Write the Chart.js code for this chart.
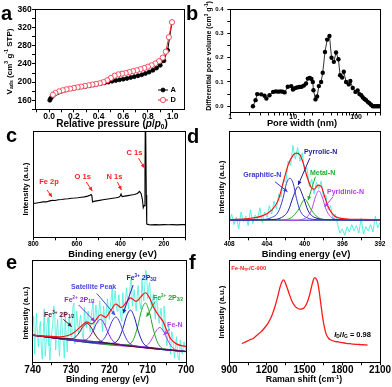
<!DOCTYPE html>
<html><head><meta charset="utf-8">
<script src="https://cdn.jsdelivr.net/npm/chart.js@4.4.1/dist/chart.umd.min.js"></script>
<style>
html,body{margin:0;padding:0;background:#fff;}
#wrap{position:relative;width:392px;height:387px;overflow:hidden;background:#fff;}
#wrap canvas{position:absolute;}
.lt{position:absolute;font:bold 20px 'Liberation Sans',Arial,sans-serif;line-height:20px;color:#000;z-index:5;}
</style></head><body><div id="wrap">
<div class="lt" style="left:1px;top:2.5px">a</div>
<div class="lt" style="left:186px;top:2.5px">b</div>
<div class="lt" style="left:6px;top:125px">c</div>
<div class="lt" style="left:187px;top:125.5px">d</div>
<div class="lt" style="left:6px;top:251.5px">e</div>
<div class="lt" style="left:189px;top:251.5px">f</div>
</div>
<script>
const FONT = "'Liberation Sans', Arial, Helvetica, sans-serif";

/* ---------- panel a : N2 isotherm ---------- */
const aSeries = ['A', 'D'];
const aP_A = [0.005,0.01,0.02,0.03,0.05,0.07,0.09,0.11,0.13,0.15,0.18,0.21,0.24,0.27,0.3,0.33,0.36,0.39,0.42,0.45,0.48,0.51,0.54,0.57,0.6,0.63,0.66,0.69,0.72,0.75,0.78,0.81,0.84,0.87,0.9,0.93,0.96,0.995];
const aV_A = [160,163,167,170,174,177,179,181,182.5,184,185.5,187,188.5,190,191,192.5,194,195.5,197,198.5,200,202,203.5,205,206.5,208,210,212,214,216,219,222,226,231,237,247,270,332];
const aP_D = [0.995,0.97,0.945,0.92,0.89,0.86,0.83,0.8,0.77,0.74,0.71,0.68,0.65,0.62,0.59,0.56,0.53,0.5,0.47,0.44,0.41,0.38,0.35,0.32,0.29,0.26,0.23,0.2,0.17,0.14,0.11,0.08,0.05,0.03];
const aV_D = [332,299,267,254,246,241,237,234,231,228.5,226,224,222,220,218.5,217,214,209,204,200,197.5,196,194.5,193,191.5,190,188.5,187,185.5,184,182,179.5,176,172];
const aXTickLabels = ['0.0','0.2','0.4','0.6','0.8','1.0'];
const aYTickLabels = ['160','200','240','280','320','360'];

/* ---------- panel b : pore size distribution ---------- */
const bWidth = [2.29,2.52,2.68,3.1,3.5,3.75,4.2,4.8,5.3,5.8,6.3,6.8,7.3,8.2,9.3,9.9,10.6,11.5,12.5,13.6,14.8,16,17.1,18.3,19.5,20.5,21,22.6,24,25.6,27.8,29.5,32,34.7,37.7,40.7,44.3,48,52.4,55.7,60,63.8,69.3,76.6,81,88.5,97.7,106,113,121,128,136,144,153,163,173,184,196,208,222,236];
const bVol = [0.0,0.025,0.05,0.049,0.043,0.032,0.045,0.059,0.061,0.06,0.061,0.06,0.057,0.08,0.083,0.069,0.074,0.077,0.079,0.08,0.085,0.094,0.114,0.117,0.112,0.1,0.066,0.028,0.04,0.083,0.1,0.138,0.224,0.275,0.29,0.2,0.183,0.222,0.194,0.128,0.118,0.142,0.1,0.09,0.104,0.075,0.059,0.065,0.05,0.045,0.036,0.03,0.025,0.018,0.012,0.006,0.0,0.0,0.0,0.0,0.0];
const bXTickLabels = ['1','10','100'];
const bYTickLabels = ['0.0','0.1','0.2','0.3','0.4'];

/* ---------- panel c : XPS survey ---------- */
const cEnergy = [800,785,770,755,740,725,712,700,685,670,655,640,625,610,595,580,565,550,540,535,531,528,522,510,495,480,465,450,435,420,408,401,397,392,380,365,350,335,322,312,305,299,295,291,287,285,283,281,279,270,255,240,220,200,180,160,140,120,100];
const cCounts = [32,32.5,33,33.5,33.5,34.5,35,34.8,35.5,35.8,36.2,36.5,37,37.2,37.5,38,38.3,39,39.8,40.5,39.5,33.5,34,34.5,35,35.5,36,36.5,37,37.5,38,39,41,38.5,39,39.5,40,40.5,41.5,43.5,41.5,36,28,30,60,130,130,40,12.5,12,11.8,12,11.8,12,11.9,12,11.8,12,12];
const cXTickLabels = ['800','600','400','200'];
const cPeakLabels = ['Fe 2p','O 1s','N 1s','C 1s'];

/* ---------- panel d : N 1s ---------- */
const dRawE = [408,407.75,407.5,407.25,407,406.75,406.5,406.25,406,405.75,405.5,405.25,405,404.75,404.5,404.25,404,403.75,403.5,403.25,403,402.75,402.5,402.25,402,401.75,401.5,401.25,401,400.75,400.5,400.25,400,399.75,399.5,399.25,399,398.75,398.5,398.25,398,397.75,397.5,397.25,397,396.75,396.5,396.25,396,395.75,395.5,395.25,395,394.75,394.5,394.25,394,393.75,393.5,393.25,393,392.75,392.5,392.25,392];
const dRaw = [14,22,12,19,8,24,15,20,11,26,13,21,17,28,14,24,19,30,22,34,27,41,38,55,52,72,68,87,74,85,72,80,62,66,48,55,41,52,46,53,38,40,26,30,17,22,12,4,8,2,10,5,12,6,11,4,18,3,10,6,12,5,20,9,14];
const dFitE = [408,406,404.6,403.5,402.8,402.3,401.75,401.2,400.87,400.5,400.15,399.8,399.35,399.0,398.57,398.22,397.87,397.5,396.8,395.7,394,392];
const dFit = [16.8,17.8,20,25.7,35.2,51.1,68.6,78.1,79.7,78.1,70.2,59,47.9,45.4,49.5,47.9,38.4,28.9,20,17.5,16.9,16.8];
const dGraphE = [408,404.6,403.5,402.8,402.3,401.93,401.57,401.22,400.87,400.5,399.8,398.6,392];
const dGraph = [16.2,16.8,18.7,24.1,36.8,51.1,55.9,51.1,36.8,25.7,18.7,16.8,16.2];
const dPyrrE = [408,403.5,402.46,401.75,401.22,400.69,400.16,399.63,398.92,397.5,392];
const dPyrr = [16.2,16.8,18.7,25.1,38.4,47.9,38.4,25.1,18.7,16.8,16.2];
const dMetalE = [408,402.46,401.4,400.69,399.98,399.28,398.57,397.5,392];
const dMetal = [16.2,16.5,18.7,25.7,35.9,25.7,18.7,16.5,16.2];
const dPyriE = [408,401.04,399.98,399.28,398.85,398.5,398.15,397.69,396.98,395.74,392];
const dPyri = [16.2,16.2,17.8,25.7,38.4,44.1,38.4,25.7,17.8,16.2,16.2];
const dBaseE = [408,392];
const dBase = [16.2,16.2];
const dXTickLabels = ['408','404','400','396','392'];
const dComponents = ['Graphitic-N','Pyrrolic-N','Metal-N','Pyridinic-N'];

/* ---------- panel e : Fe 2p ---------- */
const eRawE = [740,739.75,739.5,739.25,739,738.75,738.5,738.25,738,737.75,737.5,737.25,737,736.75,736.5,736.25,736,735.75,735.5,735.25,735,734.75,734.5,734.25,734,733.75,733.5,733.25,733,732.75,732.5,732.25,732,731.75,731.5,731.25,731,730.75,730.5,730.25,730,729.75,729.5,729.25,729,728.75,728.5,728.25,728,727.75,727.5,727.25,727,726.75,726.5,726.25,726,725.75,725.5,725.25,725,724.75,724.5,724.25,724,723.75,723.5,723.25,723,722.75,722.5,722.25,722,721.75,721.5,721.25,721,720.75,720.5,720.25,720,719.75,719.5,719.25,719,718.75,718.5,718.25,718,717.75,717.5,717.25,717,716.75,716.5,716.25,716,715.75,715.5,715.25,715,714.75,714.5,714.25,714,713.75,713.5,713.25,713,712.75,712.5,712.25,712,711.75,711.5,711.25,711,710.75,710.5,710.25,710,709.75,709.5,709.25,709,708.75,708.5,708.25,708,707.75,707.5,707.25,707,706.75,706.5,706.25,706,705.75,705.5,705.25,705,704.75,704.5,704.25,704,703.75,703.5,703.25,703,702.75,702.5,702.25,702,701.75,701.5,701.25,701,700.75,700.5,700.25,700];
const eRaw = [35,45,8,30,48,26,15,33,40,14,3,28,52,6,18,38,44,16,2,20,30,38,55,48,12,30,42,20,6,28,46,32,20,4,50,24,10,30,44,34,25,40,54,58,18,36,50,38,28,40,46,34,26,22,54,40,34,46,50,38,30,44,52,60,32,46,56,44,38,50,60,48,40,30,55,44,36,52,62,50,42,55,63,72,46,60,70,58,50,59,66,53,44,40,68,56,48,62,73,60,52,66,78,82,55,64,71,58,50,64,75,63,56,52,82,68,60,76,90,85,62,72,78,63,52,60,67,52,42,64,58,46,38,46,53,40,30,55,46,28,16,26,36,20,8,30,28,14,4,15,25,12,3,2,22,14,8,14,20,15,12];
const eFitE = [740,736,733,731,729.5,728.3,727,725.9,724.6,723.5,722.3,721,719.6,718.3,716.9,715.6,714.5,713,711.8,710.6,709.5,708.5,707.2,706,705,704,702.5,700];
const eFit = [26.5,25.5,25,26,28.5,32,36.5,39.5,37.5,41.5,46.5,44,51,57,53.5,58.5,63,59.5,64,68,63,54,46,40,31,23,18,15.5];
const eBaseE = [740,730,720,710,700];
const eBase = [26.5,22.5,18.5,14.5,10.5];
const eFe3aE = [740,731.3,729.8,728.8,727.8,726.8,725.8,724.8,723.8,722.8,721.8,720.3,700];
const eFe3a = [26.5,22.9,23.0,24.8,29.3,35.2,37.9,34.4,27.7,22.5,19.9,18.6,10.5];
const eFe2aE = [740,727.8,726.3,725.3,724.3,723.3,722.3,721.3,720.3,719.3,718.3,716.8,700];
const eFe2a = [26.5,21.6,21.9,24.4,30.4,38.3,42.0,37.5,28.8,22.0,18.7,17.2,10.5];
const eSatE = [740,723.8,722.3,721.3,720.3,719.3,718.3,717.3,716.3,715.3,714.3,712.8,700];
const eSat = [26.5,20.0,20.5,23.5,30.6,40.0,44.4,39.2,29.0,21.1,17.3,15.6,10.5];
const eFe3bE = [740,720,718.5,717.5,716.5,715.5,714.5,713.5,712.5,711.5,710.5,709,700];
const eFe3b = [26.5,18.5,19.3,23.4,32.7,45.2,51.0,44.4,31.1,21.0,16.1,14.1,10.5];
const eFe2bE = [740,716.1,714.6,713.6,712.6,711.6,710.6,709.6,708.6,707.6,706.6,705.1,700];
const eFe2b = [26.5,16.9,18.0,23.3,35.0,50.6,58.0,49.8,33.4,20.9,14.8,12.5,10.5];
const eFeNE = [740,712.3,710.8,709.8,708.8,707.8,706.8,705.8,704.8,703.8,702.8,701.3,700];
const eFeN = [26.5,15.4,15.6,17.9,23.4,30.7,34.0,29.9,21.8,15.5,12.4,11.0,10.5];
const eXTickLabels = ['740','730','720','710','700'];

/* ---------- panel f : Raman ---------- */
const fShift = [1000,1030,1060,1090,1120,1150,1180,1210,1240,1265,1285,1305,1320,1332,1345,1360,1378,1398,1420,1440,1460,1480,1500,1520,1540,1555,1568,1580,1592,1603,1615,1628,1642,1656,1670,1690,1710,1740,1770,1800,1830,1860,1890,1920,1950,1980,2000];
const fInt = [18.3,20,21.8,23.3,26.5,29.5,33.5,38.5,46,55,64,74,79,80.5,78,73,66.5,60,55.5,53,52,52.3,54,58.5,66,74,80,82.7,81.5,78.5,70,58,45,35,28,23.5,21.8,20.5,19.9,19.2,18.6,18.2,17.8,17.5,17.3,17,16.9];
const fXTickLabels = ['900','1200','1500','1800','2100'];
const fRatio = '0.98';

/* ---------- helpers ---------- */
const wrap = document.getElementById('wrap');
const DECO = {};
Chart.defaults.font.family = FONT;
Chart.defaults.font.weight = 'bold';
Chart.defaults.color = '#000';

function xy(xs, ys) { return xs.map((x, i) => ({x: x, y: ys[i]})); }
function line(xs, ys, color, w, smooth, extra) {
  return Object.assign({data: xy(xs, ys), showLine: true, borderColor: color, backgroundColor: color,
    borderWidth: w, pointRadius: 0, fill: false, tension: 0,
    cubicInterpolationMode: smooth ? 'monotone' : 'default'}, extra || {});
}
function parseRich(s) {
  const segs = []; let i = 0, buf = '';
  while (i < s.length) {
    const c = s[i];
    if ((c === '^' || c === '_' || c === '!') && s[i + 1] === '{') {
      if (buf) { segs.push({t: buf, m: ''}); buf = ''; }
      const j = s.indexOf('}', i + 2);
      segs.push({t: s.slice(i + 2, j), m: c});
      i = j + 1;
    } else { buf += c; i++; }
  }
  if (buf) segs.push({t: buf, m: ''});
  return segs;
}
function drawRich(ctx, s, x, y, size, color, align, rot) {
  const segs = parseRich(s);
  const fontOf = m => ((m === '!') ? 'italic ' : '') + 'bold ' + ((m === '^' || m === '_') ? size * 0.65 : size) + 'px ' + FONT;
  let w = 0;
  segs.forEach(g => { ctx.font = fontOf(g.m); g.w = ctx.measureText(g.t).width; w += g.w; });
  ctx.save();
  ctx.translate(x, y); if (rot) ctx.rotate(rot);
  let cx = align === 'left' ? 0 : (align === 'right' ? -w : -w / 2);
  ctx.fillStyle = color; ctx.textBaseline = 'middle'; ctx.textAlign = 'left';
  segs.forEach(g => {
    ctx.font = fontOf(g.m);
    const dy = g.m === '^' ? -size * 0.33 : (g.m === '_' ? size * 0.25 : 0);
    ctx.fillText(g.t, cx, dy); cx += g.w;
  });
  ctx.restore();
}
function arrow(ctx, x1, y1, x2, y2, color) {
  ctx.save();
  ctx.strokeStyle = color; ctx.fillStyle = color; ctx.lineWidth = 1;
  ctx.beginPath(); ctx.moveTo(x1, y1); ctx.lineTo(x2, y2); ctx.stroke();
  const ang = Math.atan2(y2 - y1, x2 - x1), L = 4, W = 2;
  ctx.beginPath(); ctx.moveTo(x2, y2);
  ctx.lineTo(x2 - L * Math.cos(ang) + W * Math.sin(ang), y2 - L * Math.sin(ang) - W * Math.cos(ang));
  ctx.lineTo(x2 - L * Math.cos(ang) - W * Math.sin(ang), y2 - L * Math.sin(ang) + W * Math.cos(ang));
  ctx.closePath(); ctx.fill();
  ctx.restore();
}
const decoPlugin = {
  id: 'deco',
  afterDatasetsDraw(chart) {
    const p = DECO[chart.canvas.id]; if (!p) return;
    const ctx = chart.ctx, a = chart.chartArea, sx = chart.scales.x, sy = chart.scales.y;
    const al = v => Math.round(v - 0.5) + 0.5;
    const X = v => sx.getPixelForValue(v), Y = v => sy.getPixelForValue(v);
    ctx.save();
    ctx.strokeStyle = '#000'; ctx.lineWidth = 1;
    ctx.strokeRect(al(a.left), al(a.top), al(a.right) - al(a.left), al(a.bottom) - al(a.top));
    (p.arrows || []).forEach(r => arrow(ctx, X(r[0]), Y(r[1]), X(r[2]), Y(r[3]), r[4]));
    (p.notes || []).forEach(n => drawRich(ctx, n.t, X(n.x), Y(n.y), n.size, n.color, n.align || 'center', 0));
    (p.titles || []).forEach(t => drawRich(ctx, t.t, t.gx - p.box.x, t.gy - p.box.y, t.size, '#000', 'center', t.rot ? -Math.PI / 2 : 0));
    (p.legend || []).forEach(L => {
      const ds = chart.data.datasets[L.ds];
      const x0 = L.gx - p.box.x, y0 = L.gy - p.box.y;
      ctx.strokeStyle = ds.borderColor; ctx.lineWidth = 1;
      ctx.beginPath(); ctx.moveTo(x0, y0); ctx.lineTo(x0 + 10, y0); ctx.stroke();
      ctx.beginPath(); ctx.arc(x0 + 5, y0, ds.pointRadius, 0, 2 * Math.PI);
      ctx.fillStyle = ds.pointBackgroundColor; ctx.fill();
      ctx.strokeStyle = ds.pointBorderColor; ctx.lineWidth = ds.pointBorderWidth; ctx.stroke();
      drawRich(ctx, L.label, x0 + 12.5, y0, 7.5, '#000', 'left', 0);
    });
    ctx.restore();
  }
};

function makePanel(p) {
  const cv = document.createElement('canvas');
  cv.id = 'cv_' + p.id;
  cv.width = p.box.w; cv.height = p.box.h;
  cv.style.left = p.box.x + 'px'; cv.style.top = p.box.y + 'px';
  cv.style.width = p.box.w + 'px'; cv.style.height = p.box.h + 'px';
  wrap.appendChild(cv);
  DECO[cv.id] = p;
  const A = p.area, B = p.box;
  const xH = B.y + B.h - A.b, yW = A.l - B.x;
  const tl = 3;
  const xOpt = {
    type: p.xType || 'linear', position: 'bottom', min: p.xMin, max: p.xMax, reverse: !!p.xReverse,
    grid: {display: true, drawOnChartArea: false, drawTicks: true, tickLength: tl, color: '#000', lineWidth: 1},
    border: {display: true, color: '#000', width: 1},
    ticks: {autoSkip: false, maxRotation: 0, minRotation: 0, includeBounds: !!p.xBounds, stepSize: p.xStep,
      padding: p.xLabY - A.b - tl - 0.6 * p.xTick, color: '#000',
      font: {size: p.xTick, weight: 'bold', family: FONT}, callback: p.xLabel},
    afterFit: s => { s.height = xH; }
  };
  let yOpt;
  if (p.yLabel) {
    yOpt = {type: 'linear', position: 'left', min: p.yMin, max: p.yMax,
      grid: {display: true, drawOnChartArea: false, drawTicks: true, tickLength: tl, color: '#000', lineWidth: 1},
      border: {display: true, color: '#000', width: 1},
      ticks: {autoSkip: false, includeBounds: false, stepSize: p.yStep, padding: A.l - p.yLabR - tl, color: '#000',
        font: {size: p.yTick, weight: 'bold', family: FONT}, callback: p.yLabel},
      afterFit: s => { s.width = yW; }
    };
  } else {
    yOpt = {type: 'linear', display: false, min: p.yMin, max: p.yMax};
  }
  return new Chart(cv, {
    type: 'scatter',
    data: {datasets: p.datasets},
    options: {
      responsive: false, animation: false, devicePixelRatio: 1, events: [],
      layout: {padding: {left: p.yLabel ? 0 : yW, right: B.x + B.w - A.r, top: A.t - B.y, bottom: 0}},
      plugins: {legend: {display: false}, tooltip: {enabled: false}},
      scales: {x: xOpt, y: yOpt}
    },
    plugins: [decoPlugin]
  });
}

/* ---------- a ---------- */
makePanel({
  id: 'a', box: {x: 0, y: 0, w: 196, h: 130}, area: {l: 35, t: 9.5, r: 184.3, b: 109.3},
  xMin: -0.115, xMax: 1.095, xStep: 0.1, xTick: 8.5, xLabY: 117,
  xLabel: v => { const k = Math.round(v * 10); return (k >= 0 && k <= 10 && k % 2 === 0) ? aXTickLabels[k / 2] : ''; },
  yMin: 140, yMax: 360, yStep: 20, yTick: 8.5, yLabR: 31.7,
  yLabel: v => { const k = Math.round(v); return (k >= 160 && (k - 160) % 40 === 0) ? aYTickLabels[(k - 160) / 40] : ''; },
  datasets: [
    line(aP_D, aV_D, '#ff1f1f', 1, false, {pointRadius: 2.6, pointBackgroundColor: '#ffffff', pointBorderColor: '#f23c50', pointBorderWidth: 0.9, label: aSeries[1]}),
    line(aP_A, aV_A, '#000000', 1, false, {pointRadius: 2, pointBackgroundColor: '#000000', pointBorderColor: '#000000', pointBorderWidth: 0.8, label: aSeries[0]})
  ],
  titles: [
    {t: 'Relative pressure (!{p}/!{p}_{0})', gx: 112, gy: 124.5, size: 10},
    {t: 'V_{ads} (cm^{3} g^{-1} STP)', gx: 9.3, gy: 61.5, size: 8, rot: true}
  ],
  legend: [{label: aSeries[0], ds: 1, gx: 158, gy: 90}, {label: aSeries[1], ds: 0, gx: 158, gy: 100}]
});

/* ---------- b ---------- */
makePanel({
  id: 'b', box: {x: 196, y: 0, w: 196, h: 130}, area: {l: 230.3, t: 9.3, r: 380, b: 112.5},
  xType: 'logarithmic', xMin: 1, xMax: 240, xTick: 7, xLabY: 117.5, xBounds: true,
  xLabel: v => { const k = Math.log10(v); return Math.abs(k - Math.round(k)) < 1e-6 ? bXTickLabels[Math.round(k)] : ''; },
  yMin: -0.026, yMax: 0.4, yStep: 0.05, yTick: 6, yLabR: 223.5,
  yLabel: v => { const k = Math.round(v * 100); return (k >= 0 && k % 10 === 0) ? bYTickLabels[k / 10] : ''; },
  datasets: [
    line(bWidth, bVol, '#000000', 0.8, false, {pointRadius: 2.2, pointBackgroundColor: '#000000', pointBorderColor: '#000000', pointBorderWidth: 0})
  ],
  titles: [
    {t: 'Pore width (nm)', gx: 302, gy: 123.5, size: 9.3},
    {t: 'Differential pore volume (cm^{3} g^{-1})', gx: 209.5, gy: 56, size: 7, rot: true}
  ]
});

/* ---------- c ---------- */
makePanel({
  id: 'c', box: {x: 0, y: 128, w: 196, h: 133}, area: {l: 33.3, t: 131.7, r: 185.7, b: 237.3},
  xMin: 100, xMax: 800, xReverse: true, xStep: 100, xTick: 6.5, xLabY: 244,
  xLabel: v => (v % 200 === 0) ? cXTickLabels[(800 - v) / 200] : '',
  yMin: 0, yMax: 100,
  datasets: [line(cEnergy, cCounts, '#000000', 1.1, false)],
  notes: [
    {t: cPeakLabels[0], x: 727.6, y: 52.8, size: 7.5, color: '#ff2020'},
    {t: cPeakLabels[1], x: 573, y: 57.1, size: 7.5, color: '#ff2020'},
    {t: cPeakLabels[2], x: 427.6, y: 57.1, size: 7.5, color: '#ff2020'},
    {t: cPeakLabels[3], x: 335.3, y: 79.8, size: 7.5, color: '#ff2020'}
  ],
  arrows: [
    [736.8, 44.8, 713.7, 38.1, '#ff2020'],
    [556.8, 52.4, 529.1, 43.8, '#ff2020'],
    [413.8, 52.4, 395.3, 44.8, '#ff2020'],
    [316.8, 75, 289.1, 65.6, '#ff2020']
  ],
  titles: [
    {t: 'Binding energy (eV)', gx: 112.5, gy: 254, size: 9.4},
    {t: 'Intensity (a.u.)', gx: 25.5, gy: 189, size: 7.8, rot: true}
  ]
});

/* ---------- d ---------- */
makePanel({
  id: 'd', box: {x: 196, y: 128, w: 196, h: 133}, area: {l: 229.3, t: 131.7, r: 380, b: 237.3},
  xMin: 392, xMax: 408, xReverse: true, xStep: 2, xTick: 6.5, xLabY: 244,
  xLabel: v => (v % 4 === 0) ? dXTickLabels[(408 - v) / 4] : '',
  yMin: 0, yMax: 100,
  datasets: [
    line(dFitE, dFit, '#ff1010', 1.2, true),
    line(dGraphE, dGraph, '#3838d8', 1, true),
    line(dPyrrE, dPyrr, '#1c1c96', 1, true),
    line(dMetalE, dMetal, '#20b020', 1, true),
    line(dPyriE, dPyri, '#b444ee', 1, true),
    line(dBaseE, dBase, '#2020a8', 1, false),
    line(dRawE, dRaw, '#3ff0dc', 0.9, false)
  ],
  notes: [
    {t: dComponents[0], x: 404.5, y: 58.6, size: 7, color: '#3838d0'},
    {t: dComponents[1], x: 398.3, y: 80.5, size: 7, color: '#1e1e9c'},
    {t: dComponents[2], x: 398.1, y: 60.5, size: 7, color: '#1fae2a'},
    {t: dComponents[3], x: 395.66, y: 42.9, size: 7, color: '#b03ce6'}
  ],
  arrows: [
    [403.16, 52.7, 401.82, 43.1, '#3838d0'],
    [399.45, 75, 400.69, 49.5, '#1e1e9c'],
    [398.86, 57.4, 399.63, 35.2, '#1fae2a'],
    [396.98, 38.4, 397.86, 28.9, '#b03ce6']
  ],
  titles: [
    {t: 'Binding energy (eV)', gx: 306, gy: 254, size: 9.4},
    {t: 'Intensity (a.u.)', gx: 222.3, gy: 187, size: 7.8, rot: true}
  ]
});

/* ---------- e ---------- */
makePanel({
  id: 'e', box: {x: 0, y: 256, w: 196, h: 131}, area: {l: 32.7, t: 260, r: 186, b: 362.3},
  xMin: 700, xMax: 740, xReverse: true, xStep: 5, xTick: 10, xLabY: 370.7,
  xLabel: v => (v % 10 === 0) ? eXTickLabels[(740 - v) / 10] : '',
  yMin: 0, yMax: 100,
  datasets: [
    line(eFitE, eFit, '#ff1010', 1.2, true),
    line(eFe3aE, eFe3a, '#5a0c24', 1, true),
    line(eFe2aE, eFe2a, '#8a26d6', 1, true),
    line(eSatE, eSat, '#3c3cdc', 1, true),
    line(eFe3bE, eFe3b, '#1e1eaa', 1, true),
    line(eFe2bE, eFe2b, '#1ea828', 1, true),
    line(eFeNE, eFeN, '#b040f0', 1, true),
    line(eBaseE, eBase, '#3a2070', 1.4, false),
    line(eRawE, eRaw, '#3ff0dc', 0.8, false)
  ],
  notes: [
    {t: 'Fe^{3+} 2P_{1/2}', x: 733.1, y: 46.2, size: 7, color: '#5c1028'},
    {t: 'Fe^{2+} 2P_{1/2}', x: 727.8, y: 60.9, size: 7, color: '#8e2ad8'},
    {t: 'Satellite Peak', x: 724.1, y: 73.3, size: 7, color: '#4848e0'},
    {t: 'Fe^{3+} 2P_{3/2}', x: 711.6, y: 82.1, size: 7, color: '#2323b0'},
    {t: 'Fe^{2+} 2P_{3/2}', x: 704.7, y: 63.1, size: 7, color: '#1fa82a'},
    {t: 'Fe-N', x: 702.9, y: 36.5, size: 7, color: '#b040f0'}
  ],
  arrows: [
    [732.0, 42.0, 729.8, 34.8, '#5c1028'],
    [728.0, 56.0, 723.8, 40.0, '#8e2ad8'],
    [723.3, 67.4, 718.5, 46.2, '#4848e0'],
    [713.8, 75.5, 716.4, 47.9, '#2323b0'],
    [708.1, 59.2, 710.3, 44.6, '#1fa82a'],
    [704.2, 32.6, 705.9, 26.7, '#b040f0']
  ],
  titles: [
    {t: 'Binding energy (eV)', gx: 107.5, gy: 380, size: 8.8},
    {t: 'Intensity (a.u.)', gx: 26, gy: 313, size: 7.8, rot: true}
  ]
});

/* ---------- f ---------- */
makePanel({
  id: 'f', box: {x: 196, y: 256, w: 196, h: 131}, area: {l: 229.3, t: 260, r: 380, b: 362.3},
  xMin: 900, xMax: 2100, xStep: 150, xTick: 10, xLabY: 370.7,
  xLabel: v => (v % 300 === 0) ? fXTickLabels[(v - 900) / 300] : '',
  yMin: 0, yMax: 100,
  datasets: [line(fShift, fInt, '#ff1a1a', 1.3, true)],
  notes: [
    {t: 'Fe-N_{TP}/C-900', x: 915, y: 92, size: 5.8, color: '#ff2020', align: 'left'},
    {t: '!{I}_{D}/!{I}_{G} = ' + fRatio, x: 1882, y: 26.7, size: 7.5, color: '#000000'}
  ],
  titles: [
    {t: 'Raman shift (cm^{-1})', gx: 304, gy: 380, size: 8.8},
    {t: 'Intensity (a.u.)', gx: 222.3, gy: 312, size: 7.8, rot: true}
  ]
});
</script>
</body></html>
